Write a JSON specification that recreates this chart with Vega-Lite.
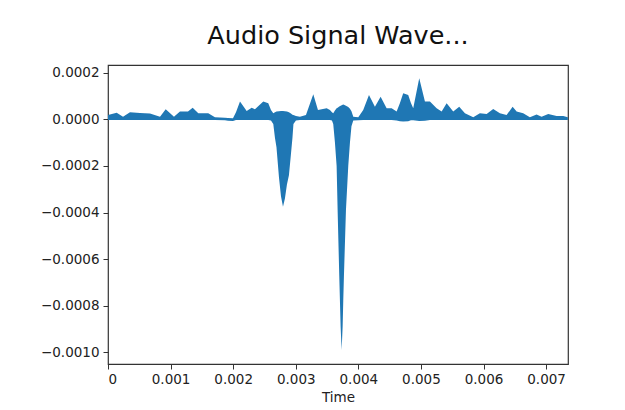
{
  "$schema": "https://vega.github.io/schema/vega-lite/v6.json",
  "width": 460,
  "height": 299,
  "autosize": {"type": "none"},
  "padding": {"left": 108, "top": 65, "right": 57, "bottom": 46},
  "background": "white",
  "title": {
    "text": "Audio Signal Wave...",
    "font": "DejaVu Sans",
    "fontSize": 25.5,
    "fontWeight": "normal",
    "color": "#111",
    "anchor": "middle",
    "offset": 16
  },
  "config": {
    "font": "DejaVu Sans",
    "view": {"stroke": "#333", "strokeWidth": 1.2},
    "axis": {
      "grid": false,
      "domain": false,
      "tickColor": "#333",
      "tickSize": 5,
      "labelFont": "DejaVu Sans",
      "labelFontSize": 13.5,
      "labelColor": "#222",
      "titleFont": "DejaVu Sans",
      "titleFontSize": 13.5,
      "titleFontWeight": "normal",
      "titleColor": "#222"
    }
  },
  "data": {
    "values": [
      {"t": 0, "hi": 0.000018, "lo": -0.000003},
      {"t": 0.000139, "hi": 0.000028, "lo": -0.000003},
      {"t": 0.00024, "hi": 0.000011, "lo": -0.000003},
      {"t": 0.000351, "hi": 0.00003, "lo": -0.000003},
      {"t": 0.000511, "hi": 0.000027, "lo": -0.000003},
      {"t": 0.000671, "hi": 0.000025, "lo": -0.000003},
      {"t": 0.000831, "hi": 0.000011, "lo": -0.000003},
      {"t": 0.000922, "hi": 0.000043, "lo": -0.000003},
      {"t": 0.001054, "hi": 0.000011, "lo": -0.000003},
      {"t": 0.00115, "hi": 0.000033, "lo": -0.000003},
      {"t": 0.001278, "hi": 0.000033, "lo": -0.000003},
      {"t": 0.001353, "hi": 0.00005, "lo": -0.000003},
      {"t": 0.001443, "hi": 0.000026, "lo": -0.000003},
      {"t": 0.001602, "hi": 0.000026, "lo": -0.000003},
      {"t": 0.001709, "hi": 0.000009, "lo": -0.000003},
      {"t": 0.001869, "hi": 0.000007, "lo": -0.000004},
      {"t": 0.001917, "hi": 0.000006, "lo": -0.000006},
      {"t": 0.001997, "hi": 0.000005, "lo": -0.000007},
      {"t": 0.002045, "hi": 0.00003, "lo": -0.000003},
      {"t": 0.002109, "hi": 0.000076, "lo": -0.000003},
      {"t": 0.002216, "hi": 0.000036, "lo": -0.000003},
      {"t": 0.002296, "hi": 0.00005, "lo": -0.000003},
      {"t": 0.002348, "hi": 0.000043, "lo": -0.000003},
      {"t": 0.002481, "hi": 0.000076, "lo": -0.000003},
      {"t": 0.002561, "hi": 0.000069, "lo": -0.000003},
      {"t": 0.002604, "hi": 0.00004, "lo": -0.000005},
      {"t": 0.002641, "hi": 0.000026, "lo": -0.00002},
      {"t": 0.002668, "hi": 0.00003, "lo": -0.00008},
      {"t": 0.002692, "hi": 0.000033, "lo": -0.00012},
      {"t": 0.002732, "hi": 0.000035, "lo": -0.00025},
      {"t": 0.002764, "hi": 0.000036, "lo": -0.00033},
      {"t": 0.002796, "hi": 0.000036, "lo": -0.000375},
      {"t": 0.002827, "hi": 0.000035, "lo": -0.00034},
      {"t": 0.002859, "hi": 0.000034, "lo": -0.00028},
      {"t": 0.002891, "hi": 0.00003, "lo": -0.00024},
      {"t": 0.002923, "hi": 0.000025, "lo": -0.00015},
      {"t": 0.002947, "hi": 0.00002, "lo": -0.00008},
      {"t": 0.002963, "hi": 0.000018, "lo": -0.00002},
      {"t": 0.003003, "hi": 0.000014, "lo": -0.000005},
      {"t": 0.003067, "hi": 0.000011, "lo": -0.000003},
      {"t": 0.003163, "hi": 0.000018, "lo": -0.000003},
      {"t": 0.00328, "hi": 0.000107, "lo": -0.000003},
      {"t": 0.003355, "hi": 0.00004, "lo": -0.000003},
      {"t": 0.003494, "hi": 0.000047, "lo": -0.000003},
      {"t": 0.003546, "hi": 0.00004, "lo": -0.000003},
      {"t": 0.003578, "hi": 0.00003, "lo": -0.000005},
      {"t": 0.003599, "hi": 0.000026, "lo": -0.00002},
      {"t": 0.003626, "hi": 0.000038, "lo": -0.0001},
      {"t": 0.003653, "hi": 0.000047, "lo": -0.0002},
      {"t": 0.003669, "hi": 0.00005, "lo": -0.00039},
      {"t": 0.003695, "hi": 0.000055, "lo": -0.00067},
      {"t": 0.003717, "hi": 0.000058, "lo": -0.00089},
      {"t": 0.003733, "hi": 0.00006, "lo": -0.00099},
      {"t": 0.003749, "hi": 0.000062, "lo": -0.00089},
      {"t": 0.003759, "hi": 0.000064, "lo": -0.00078},
      {"t": 0.00377, "hi": 0.000062, "lo": -0.00067},
      {"t": 0.003802, "hi": 0.000058, "lo": -0.00039},
      {"t": 0.003839, "hi": 0.000053, "lo": -0.0002},
      {"t": 0.003866, "hi": 0.000045, "lo": -0.0001},
      {"t": 0.00389, "hi": 0.000035, "lo": -0.00003},
      {"t": 0.003919, "hi": 0.000011, "lo": -0.000005},
      {"t": 0.003999, "hi": 0.000009, "lo": -0.000004},
      {"t": 0.004078, "hi": 0.00004, "lo": -0.000003},
      {"t": 0.00417, "hi": 0.000104, "lo": -0.000003},
      {"t": 0.004265, "hi": 0.000054, "lo": -0.000003},
      {"t": 0.004356, "hi": 0.000097, "lo": -0.000003},
      {"t": 0.004452, "hi": 0.000047, "lo": -0.000003},
      {"t": 0.004532, "hi": 0.000047, "lo": -0.000003},
      {"t": 0.004612, "hi": 0.000033, "lo": -0.000005},
      {"t": 0.004665, "hi": 0.00007, "lo": -0.000008},
      {"t": 0.004717, "hi": 0.000112, "lo": -0.000009},
      {"t": 0.004797, "hi": 0.000104, "lo": -0.000008},
      {"t": 0.00484, "hi": 0.00007, "lo": -0.000004},
      {"t": 0.004877, "hi": 0.000047, "lo": -0.000004},
      {"t": 0.004973, "hi": 0.000176, "lo": -0.000007},
      {"t": 0.005064, "hi": 0.000076, "lo": -0.000006},
      {"t": 0.005144, "hi": 0.000076, "lo": -0.000003},
      {"t": 0.005251, "hi": 0.000047, "lo": -0.000003},
      {"t": 0.005331, "hi": 0.000033, "lo": -0.000003},
      {"t": 0.005411, "hi": 0.000069, "lo": -0.000003},
      {"t": 0.005516, "hi": 0.000033, "lo": -0.000003},
      {"t": 0.005612, "hi": 0.000054, "lo": -0.000003},
      {"t": 0.005703, "hi": 0.000026, "lo": -0.000003},
      {"t": 0.005836, "hi": 0.000009, "lo": -0.000003},
      {"t": 0.005942, "hi": 0.000026, "lo": -0.000003},
      {"t": 0.00605, "hi": 0.000023, "lo": -0.000003},
      {"t": 0.006155, "hi": 0.000044, "lo": -0.000003},
      {"t": 0.006262, "hi": 0.000026, "lo": -0.000003},
      {"t": 0.006369, "hi": 0.000018, "lo": -0.000003},
      {"t": 0.006465, "hi": 0.000054, "lo": -0.000003},
      {"t": 0.006529, "hi": 0.000033, "lo": -0.000003},
      {"t": 0.006634, "hi": 0.000026, "lo": -0.000003},
      {"t": 0.006741, "hi": 0.000009, "lo": -0.000003},
      {"t": 0.006848, "hi": 0.000021, "lo": -0.000003},
      {"t": 0.006928, "hi": 0.000011, "lo": -0.000003},
      {"t": 0.007034, "hi": 0.000023, "lo": -0.000003},
      {"t": 0.007168, "hi": 0.000014, "lo": -0.000003},
      {"t": 0.007273, "hi": 0.000014, "lo": -0.000003},
      {"t": 0.007348, "hi": 0.000009, "lo": -0.000003}
    ]
  },
  "mark": {"type": "area", "color": "#1f77b4", "opacity": 1, "clip": true},
  "encoding": {
    "x": {
      "field": "t",
      "type": "quantitative",
      "title": "Time",
      "scale": {"domain": [0, 0.00735], "nice": false, "zero": false},
      "axis": {
        "values": [0, 0.001, 0.002, 0.003, 0.004, 0.005, 0.006, 0.007],
        "labelExpr": "datum.value == 0 ? '0' : format(datum.value, '.3f')",
        "labelPadding": 3,
        "titlePadding": 5
      }
    },
    "y": {
      "field": "hi",
      "type": "quantitative",
      "title": null,
      "scale": {"domain": [-0.00105, 0.000233], "nice": false, "zero": false},
      "axis": {
        "values": [0.0002, 0, -0.0002, -0.0004, -0.0006, -0.0008, -0.001],
        "labelExpr": "replace(format(datum.value, '.4f'), '-', '\u2212')",
        "labelPadding": 4
      }
    },
    "y2": {"field": "lo"}
  }
}
